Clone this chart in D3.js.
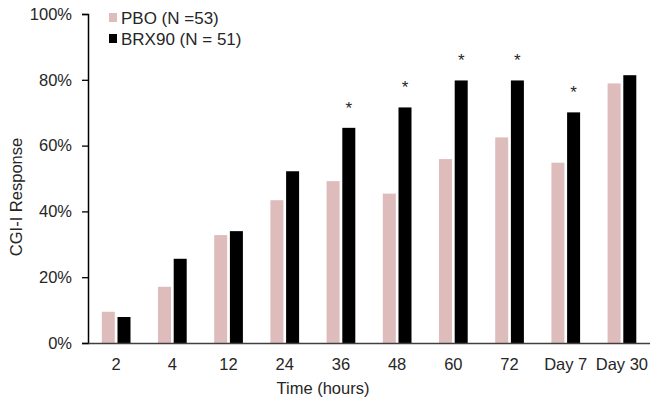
<!DOCTYPE html>
<html>
<head>
<meta charset="utf-8">
<script src="https://cdn.jsdelivr.net/npm/d3@7"></script>
<style>
  html, body { margin: 0; padding: 0; background: #fff; }
  text { font-family: "Liberation Sans", Arial, sans-serif; fill: #262626; }
</style>
</head>
<body>
<svg id="chart" width="650" height="403"></svg>
<script>
const categories = ["2", "4", "12", "24", "36", "48", "60", "72", "Day 7", "Day 30"];
const pboValues = [0.095, 0.171, 0.328, 0.434, 0.492, 0.454, 0.559, 0.625, 0.548, 0.789];
const brxValues = [0.079, 0.256, 0.340, 0.522, 0.654, 0.716, 0.798, 0.798, 0.701, 0.814];
const significant = [false, false, false, false, true, true, true, true, true, false];
const seriesNames = ["PBO (N =53)", "BRX90 (N = 51)"];
const yTicks = [0, 0.2, 0.4, 0.6, 0.8, 1.0];
const xTitle = "Time (hours)";
const yTitle = "CGI-I Response";

(function () {
const colors = ["#dfbcbc", "#000000"];
const svg = d3.select("#chart");
const mLeft = 88, mRight = 650, mTop = 14, mBottom = 343;

const x = d3.scaleBand().domain(categories).range([mLeft, mRight]).padding(0);
const y = d3.scaleLinear().domain([0, 1]).range([mBottom, mTop]);

// y axis
const yAxis = svg.append("g").attr("transform", `translate(${mLeft},0)`)
  .call(d3.axisLeft(y).tickValues(yTicks).tickFormat(d3.format(".0%")).tickSize(6).tickPadding(10));
yAxis.selectAll("path.domain").attr("stroke", "#000").attr("stroke-width", 1.5);
yAxis.selectAll(".tick line").attr("stroke", "#000").attr("stroke-width", 1.3);
yAxis.selectAll(".tick text").style("font-size", "16.5px").attr("fill", "#262626")
  .style("font-family", "'Liberation Sans', Arial, sans-serif");

// bars
const bw = 13;
svg.append("g").selectAll("rect").data(categories).join("rect")
  .attr("x", d => x(d) + x.bandwidth() / 2 - 14.3)
  .attr("width", bw)
  .attr("y", (d, i) => y(pboValues[i]))
  .attr("height", (d, i) => mBottom - y(pboValues[i]))
  .attr("fill", colors[0]);
svg.append("g").selectAll("rect").data(categories).join("rect")
  .attr("x", d => x(d) + x.bandwidth() / 2 + 1.4)
  .attr("width", bw)
  .attr("y", (d, i) => y(brxValues[i]))
  .attr("height", (d, i) => mBottom - y(brxValues[i]))
  .attr("fill", colors[1]);

// significance stars
svg.append("g").selectAll("text").data(categories.filter((d, i) => significant[i])).join("text")
  .attr("x", d => x(d) + x.bandwidth() / 2 + 1.4 + bw / 2)
  .attr("y", d => y(brxValues[categories.indexOf(d)]) - 14)
  .attr("text-anchor", "middle")
  .style("font-size", "17px")
  .text("*");

// x axis
const xAxis = svg.append("g").attr("transform", `translate(0,${mBottom})`)
  .call(d3.axisBottom(x).tickSize(0).tickPadding(15));
xAxis.selectAll("path.domain").attr("stroke", "#404040").attr("stroke-width", 1.5);
xAxis.selectAll(".tick text").style("font-size", "16.5px").attr("fill", "#262626")
  .style("font-family", "'Liberation Sans', Arial, sans-serif");

// axis titles
svg.append("text").attr("x", 323).attr("y", 394).attr("text-anchor", "middle")
  .style("font-size", "16.5px").text(xTitle);
svg.append("text").attr("transform", "translate(22,197) rotate(-90)").attr("text-anchor", "middle")
  .style("font-size", "16.5px").text(yTitle);

// legend
const lg = svg.append("g");
seriesNames.forEach((name, i) => {
  lg.append("rect").attr("x", 109).attr("y", 13 + i * 21).attr("width", 8).attr("height", 9).attr("fill", colors[i]);
  lg.append("text").attr("x", 121).attr("y", 24 + i * 21).style("font-size", "17px").text(name);
});
})();
</script>
</body>
</html>
